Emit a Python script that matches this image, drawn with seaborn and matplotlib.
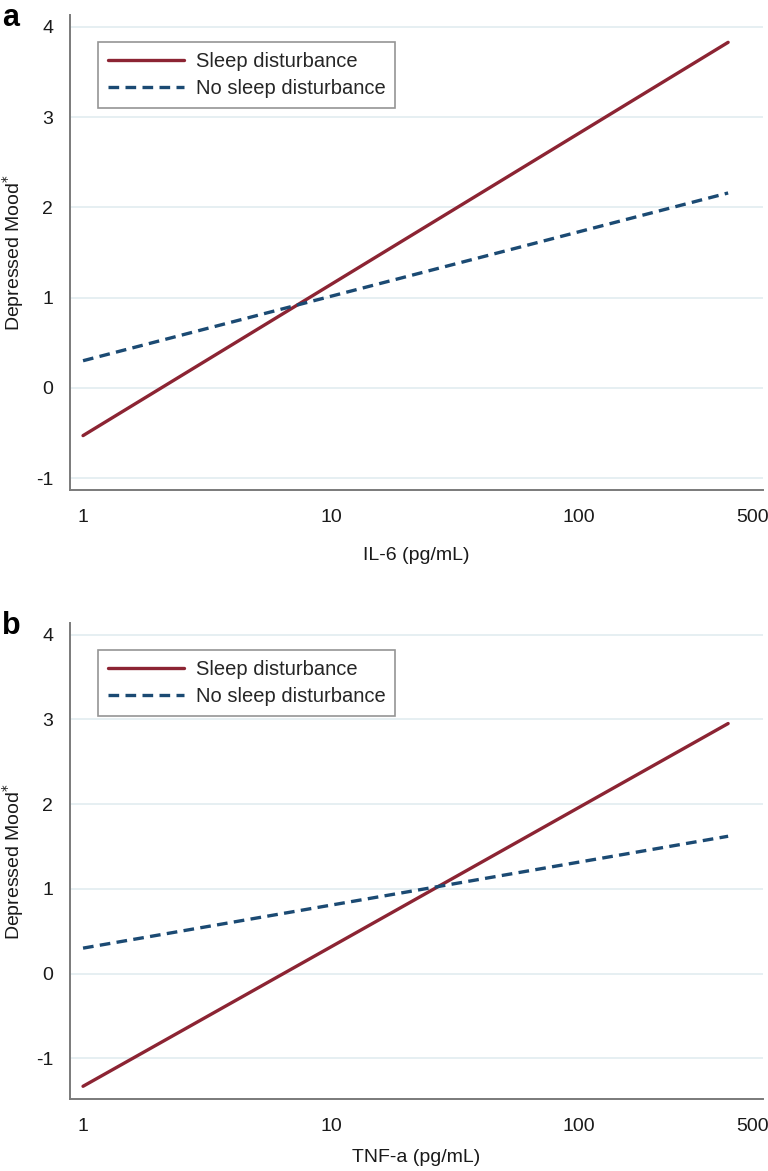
import numpy as np
import pandas as pd
import matplotlib
matplotlib.use('Agg')
import matplotlib.pyplot as plt
import seaborn as sns

# Line endpoints (x is on a log scale)
GROUPS = ['Sleep disturbance', 'No sleep disturbance']
X_ENDS = [1, 400]
IL6_SLEEP = [-0.53, 3.83]
IL6_NO_SLEEP = [0.30, 2.16]
TNF_SLEEP = [-1.33, 2.95]
TNF_NO_SLEEP = [0.30, 1.62]

Y_TICKS = [-1, 0, 1, 2, 3, 4]
X_TICKS = [1, 10, 100, 500]
X_TICK_LABELS = ['1', '10', '100', '500']
X_LABELS = ['IL-6 (pg/mL)', 'TNF-a (pg/mL)']
PANEL_LABELS = ['a', 'b']

RED = '#8C2433'
NAVY = '#1B4A73'
SPINE = '#7A7A7A'
GRID = '#E4EEF1'

W, H = 768, 1171

sns.set_style('white')
plt.rcParams['font.family'] = ['Liberation Sans', 'DejaVu Sans']


def make_df(sleep, no_sleep):
    return pd.DataFrame({
        'x': X_ENDS + X_ENDS,
        'y': sleep + no_sleep,
        'group': [GROUPS[0]] * len(X_ENDS) + [GROUPS[1]] * len(X_ENDS),
    })


panels = [
    (make_df(IL6_SLEEP, IL6_NO_SLEEP), (-1.133, 4.133), [15, 490], 555),
    (make_df(TNF_SLEEP, TNF_NO_SLEEP), (-1.48, 4.136), [623, 1099], 1158),
]

fig = plt.figure(figsize=(W / 100, H / 100), dpi=100)

for i, (df, ylim, (top_px, bot_px), xlab_px) in enumerate(panels):
    ax = fig.add_axes([70 / W, (H - bot_px) / H, 693 / W, (bot_px - top_px) / H])
    ax.set_xscale('log')
    sns.lineplot(data=df, x='x', y='y', hue='group', style='group',
                 hue_order=GROUPS, style_order=GROUPS,
                 palette={GROUPS[0]: RED, GROUPS[1]: NAVY},
                 dashes={GROUPS[0]: '', GROUPS[1]: (3.2, 1.9)},
                 linewidth=2.4, ax=ax)

    ax.set_xlim(0.886, 553)
    ax.set_ylim(*ylim)
    ax.set_xticks(X_TICKS)
    ax.set_xticklabels(X_TICK_LABELS)
    ax.xaxis.set_minor_locator(matplotlib.ticker.NullLocator())
    ax.set_yticks(Y_TICKS)
    ax.set_yticklabels([str(t) for t in Y_TICKS])

    ax.yaxis.grid(True, color=GRID, linewidth=1.3)
    ax.xaxis.grid(False)
    ax.set_axisbelow(True)

    for side in ['top', 'right']:
        ax.spines[side].set_visible(False)
    for side in ['left', 'bottom']:
        ax.spines[side].set_color(SPINE)
        ax.spines[side].set_linewidth(1.4)

    ax.tick_params(axis='both', direction='out', length=5, width=1,
                   color=SPINE, labelsize=14, labelcolor='#1a1a1a')
    ax.tick_params(axis='y', pad=7)
    ax.tick_params(axis='x', pad=9)

    ax.set_xlabel(X_LABELS[i], fontsize=14, color='#1a1a1a')
    ax.set_ylabel('Depressed Mood$^{*}$', fontsize=14, color='#1a1a1a')
    ax.xaxis.label.set_va('center')
    ax.xaxis.set_label_coords(0.5, -(xlab_px - bot_px) / (bot_px - top_px))
    ax.yaxis.label.set_va('center')
    ax.yaxis.set_label_coords(-57 / 693, 0.5)

    handles, labels = ax.get_legend_handles_labels()
    leg = ax.legend(handles, labels, loc='upper left',
                    bbox_to_anchor=(28 / 693, (bot_px - top_px - 27) / (bot_px - top_px)),
                    borderaxespad=0, fontsize=14.5, frameon=True, fancybox=False,
                    handlelength=3.75, handletextpad=0.6, borderpad=0.5,
                    labelspacing=0.4)
    leg.get_frame().set_edgecolor(SPINE)
    leg.get_frame().set_linewidth(1.2)
    for line in leg.get_lines():
        line.set_linewidth(2.4)

    fig.text(2 / W, 1 - (top_px - 12) / H, PANEL_LABELS[i], fontsize=22,
             fontweight='bold', va='top', ha='left', color='black')

fig.savefig('out.png', dpi=100)
